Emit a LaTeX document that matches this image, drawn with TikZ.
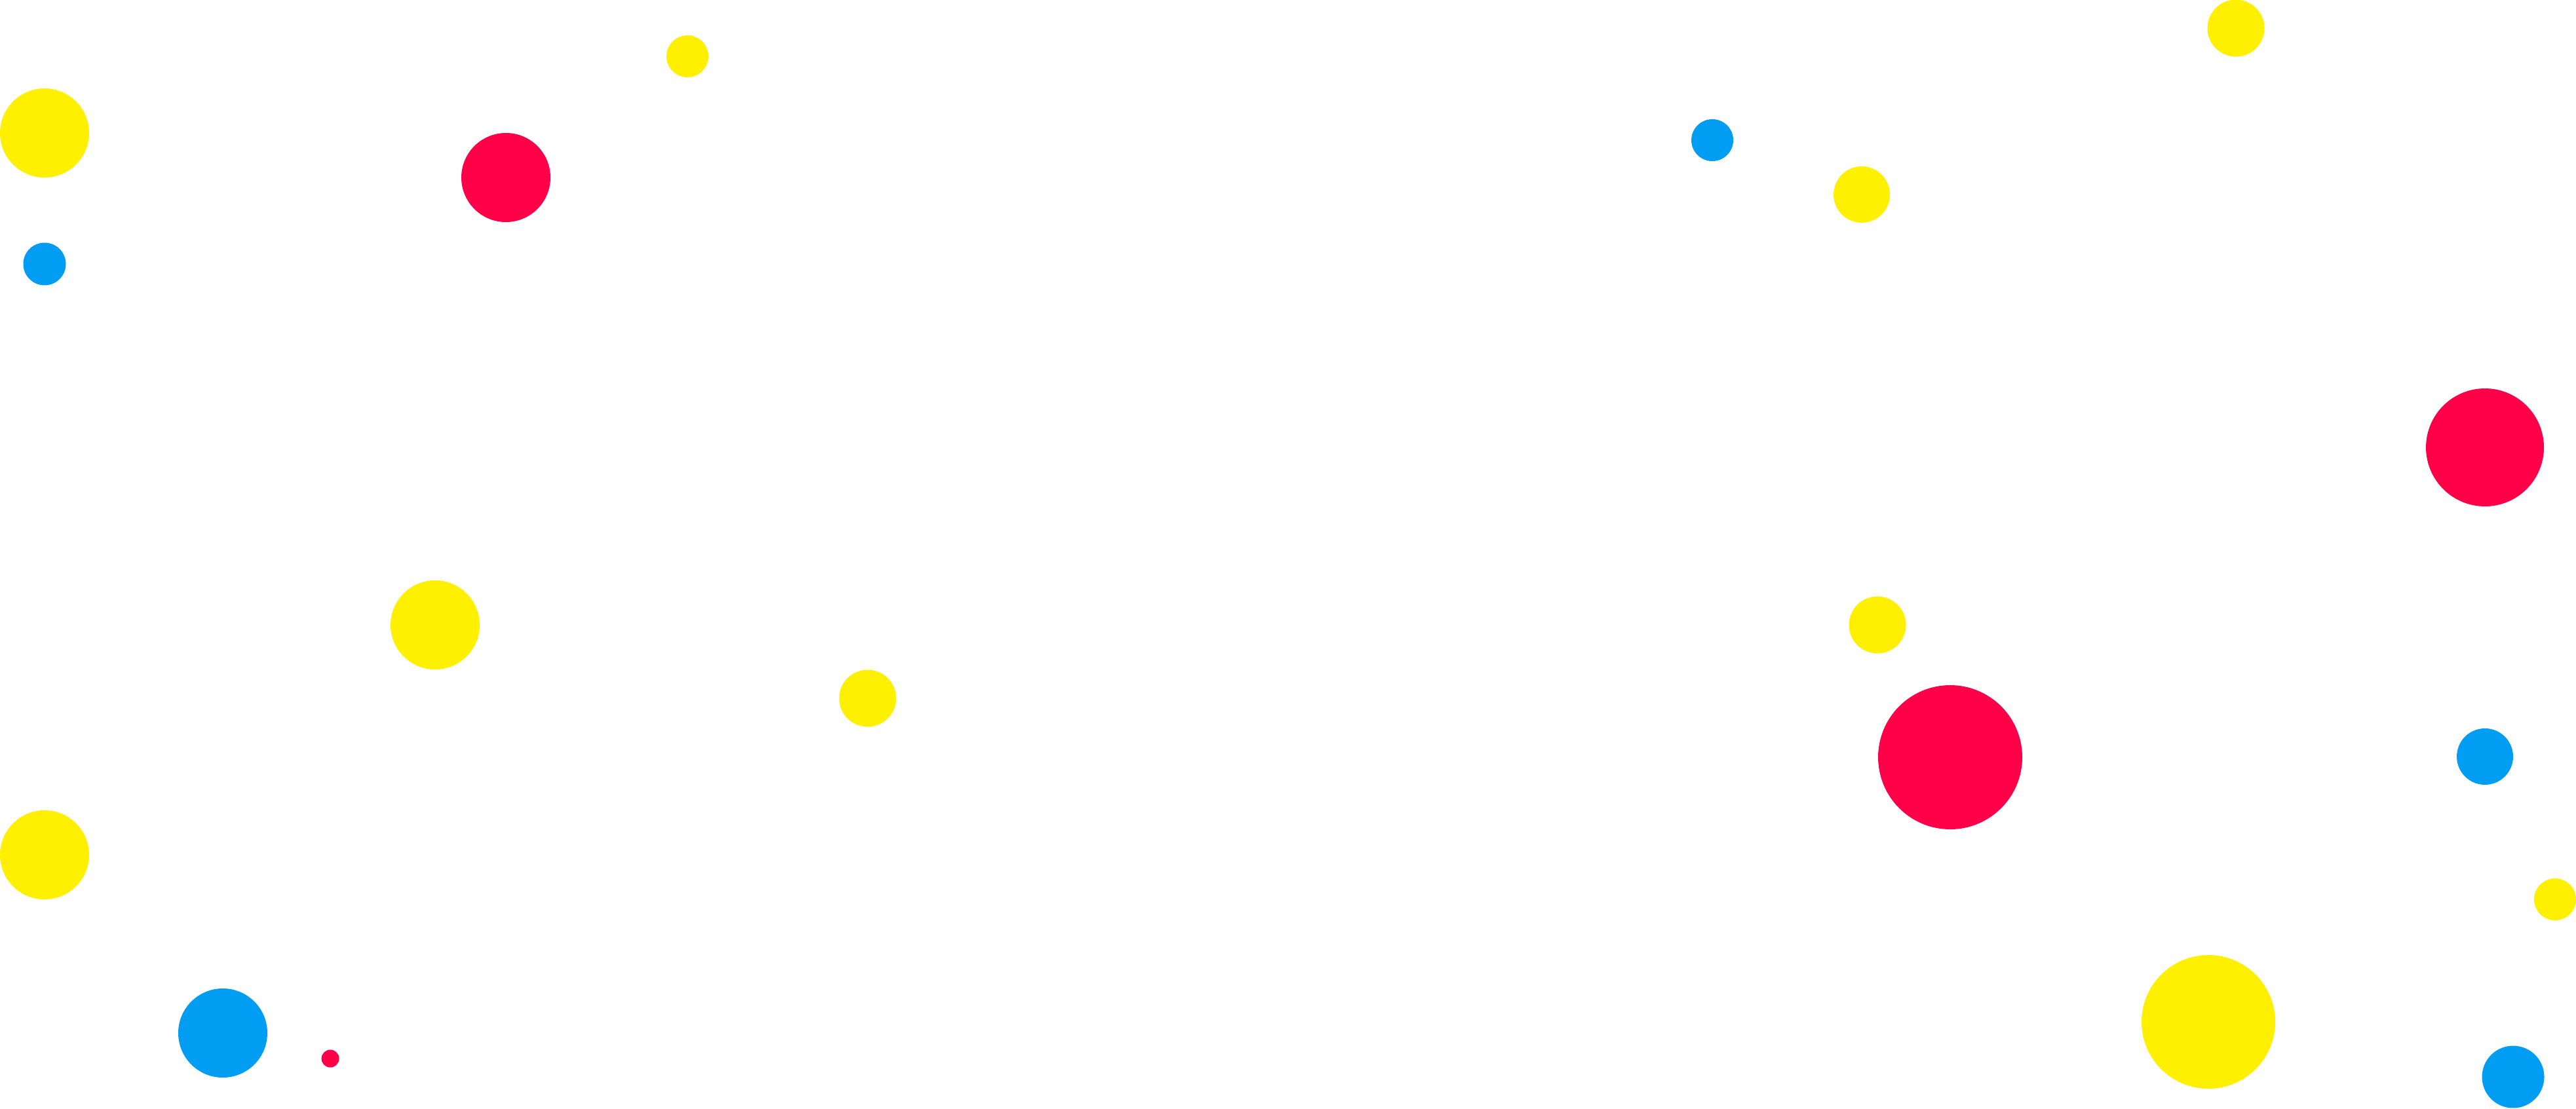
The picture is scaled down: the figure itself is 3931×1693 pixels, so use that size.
\documentclass[tikz,border=0pt]{standalone}
\definecolor{dotyellow}{RGB}{255,240,0}
\definecolor{dotred}{RGB}{255,0,72}
\definecolor{dotblue}{RGB}{0,157,242}
\tikzset{
  ydot/.style={fill=dotyellow},
  rdot/.style={fill=dotred},
  bdot/.style={fill=dotblue}
}
\begin{document}
\begin{tikzpicture}[x=1pt,y=-1pt]
\fill[white] (0,0) rectangle (3931,1693);
\useasboundingbox (0,0) rectangle (3931,1693);
% yellow dots
\foreach \cx/\cy/\r in {68/203/68, 664/954/68, 68/1305/68, 1049/86/32, 1324/1066/43.5, 2841/297/43, 2865/954/43.5, 3412/43/43.5, 3370/1560/102, 3899/1373/32}
  \fill[ydot] (\cx,\cy) circle[radius=\r pt];
% red dots
\foreach \cx/\cy/\r in {772/271/68, 504/1616/13.5, 2976/1156/110, 3792/683/90}
  \fill[rdot] (\cx,\cy) circle[radius=\r pt];
% blue dots
\foreach \cx/\cy/\r in {68/403/32.5, 340/1577/68, 2613/214/32, 3792/1155/43, 3835/1644/47.5}
  \fill[bdot] (\cx,\cy) circle[radius=\r pt];
\end{tikzpicture}
\end{document}
